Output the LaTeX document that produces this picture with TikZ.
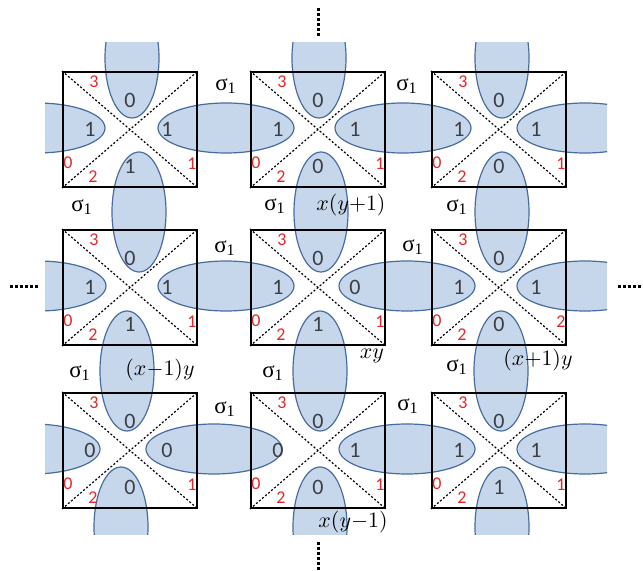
\documentclass[tikz,border=0pt]{standalone}
\usepackage{fontspec}
\setmainfont{Liberation Serif}
\newfontfamily\numfont{Carlito}

\definecolor{ellfill}{RGB}{199,215,235}
\definecolor{elldraw}{RGB}{72,108,160}
\definecolor{cornerred}{RGB}{226,40,40}
\definecolor{numgray}{RGB}{60,62,70}

\begin{document}
\begin{tikzpicture}[x=0.5pt,y=-0.5pt,
    cellbox/.style={draw=black,line width=1pt,minimum width=67pt,minimum height=57.5pt,inner sep=0pt},
    blob/.style={fill=ellfill,draw=elldraw,line width=0.6pt},
    diag/.style={line width=0.6pt,dash pattern=on 1pt off 1pt},
    num/.style={text=numgray,font=\numfont\fontsize{11}{13}\selectfont,inner sep=0pt},
    corner/.style={text=cornerred,font=\numfont\fontsize{9}{11}\selectfont,inner sep=0pt},
    sig/.style={font=\fontsize{11.5}{13}\selectfont,inner sep=0pt},
    site/.style={font=\fontsize{11}{13}\selectfont,inner sep=0pt},
    more/.style={line width=1.5pt,dash pattern=on 1.5pt off 1pt}]
    \useasboundingbox (0,0) rectangle (643,571);

    % bonds between neighbouring cells (cut at the picture edge)
    \begin{scope}
        \clip (45,43) rectangle (607,535);
        \foreach \y/\xa/\xb/\xc/\xd in {128/37/226/403/585,286/38/226/407/585,449/32/214/407/585}
            \foreach \x in {\xa,\xb,\xc,\xd}
                \draw[blob] (\x,\y) ellipse [x radius=68, y radius=25];
        \foreach \x/\y in {132/58,139/212,127/371,121/527,
                           319/58,321/212,320/371,320/527,
                           502/58,502/212,501/371,502/527}
            \draw[blob] (\x,\y) ellipse [x radius=27, y radius=60];
    \end{scope}

    % cells: row/col/x/y/top/left/right/bottom/right corner
    \foreach \r/\c/\x/\y/\nt/\nl/\nr/\nb/\cr in {
        1/1/130/129.5/0/1/1/1/1, 1/2/318/129.5/0/1/1/0/1, 1/3/499/129.5/0/1/1/0/1,
        2/1/130/287.5/0/1/1/1/1, 2/2/318/287.5/0/1/0/1/1, 2/3/499/287.5/0/1/1/0/2,
        3/1/130/450.5/0/0/0/0/1, 3/2/318/450.5/0/0/1/0/1, 3/3/499/450.5/0/1/1/1/1} {
        \node[cellbox] (cell-\r-\c) at (\x,\y) {};
        \draw[diag] (cell-\r-\c.north west) -- (cell-\r-\c.south east);
        \draw[diag] (cell-\r-\c.south west) -- (cell-\r-\c.north east);
        \node[num] (top-\r-\c) at ([shift={(0,-29)}]cell-\r-\c.center) {\nt};
        \node[num] (left-\r-\c) at ([shift={(-40,0)}]cell-\r-\c.center) {\nl};
        \node[num] (right-\r-\c) at ([shift={(37,0)}]cell-\r-\c.center) {\nr};
        \node[num] (bot-\r-\c) at ([shift={(0,37)}]cell-\r-\c.center) {\nb};
        \node[corner] (cthree-\r-\c) at ([shift={(32,11)}]cell-\r-\c.north west) {3};
        \node[corner] (czero-\r-\c) at ([shift={(6,-25)}]cell-\r-\c.south west) {0};
        \node[corner] (ctwo-\r-\c) at ([shift={(31,-11)}]cell-\r-\c.south west) {2};
        \node[corner] (cone-\r-\c) at ([shift={(-6,-24)}]cell-\r-\c.south east) {\cr};
    }

    % sigma_1 labels
    \foreach \x/\y [count=\i] in {226/86,407/86,
                                  82/207,275/206,457/207,
                                  225/248,413/247,
                                  80/373,273/373,457/367,
                                  225/409,408/406}
        \node[sig] (sig-\i) at (\x,\y) {σ\textsubscript{1}};

    % site labels
    \node[site] (up) at (351,205) {$x\bigl(y{+}1\bigr)$};
    \node[site] (west) at (160,370) {$\bigl(x{-}1\bigr)y$};
    \node[site] (here) at (372,356) {$xy$};
    \node[site] (east) at (538,360) {$\bigl(x{+}1\bigr)y$};
    \node[site] (down) at (353,522) {$x\bigl(y{-}1\bigr)$};

    % lattice goes on
    \draw[more] (318,8) -- (318,37);
    \draw[more] (318,542) -- (318,570);
    \draw[more] (10,287) -- (38,287);
    \draw[more] (618,287) -- (641,287);
\end{tikzpicture}
\end{document}
